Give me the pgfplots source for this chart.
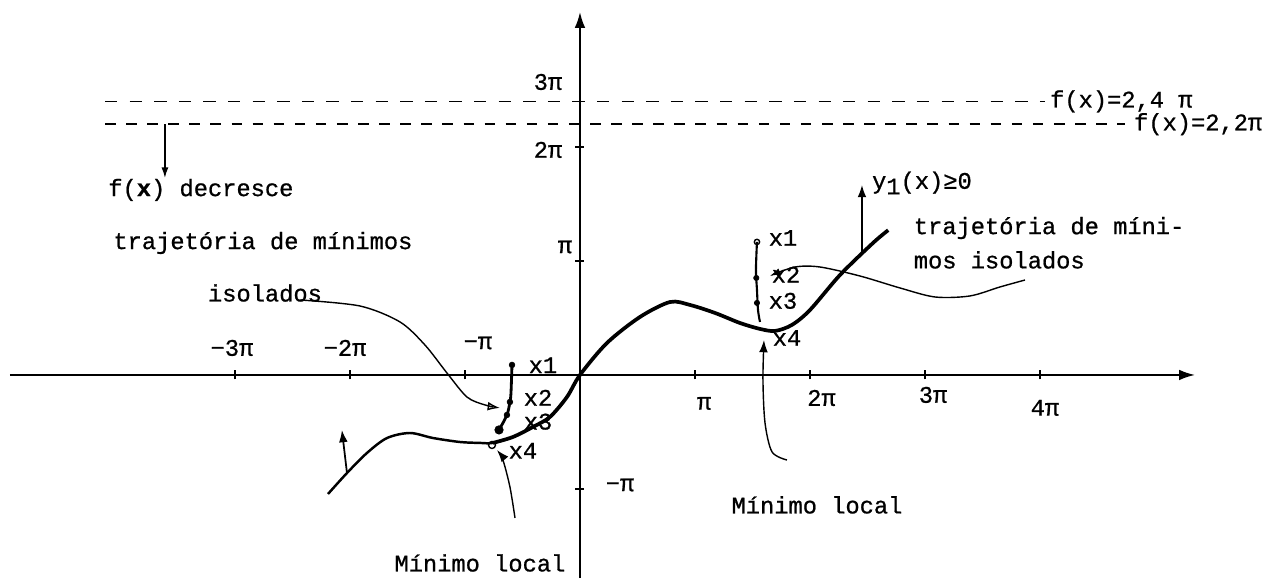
\documentclass[border=0pt]{standalone}
\usepackage{fontspec}
\setmainfont{Liberation Mono}[FakeBold=0.8]
\newfontfamily\lab{Liberation Sans}
\usepackage{pgfplots}
\pgfplotsset{compat=1.18}
\usetikzlibrary{arrows.meta}

\begin{document}
\begin{tikzpicture}[font=\fontsize{13.5}{15}\selectfont]
\begin{axis}[
  x=2.3cm, y=2.28cm,
  xmin=-4.957, xmax=5.348, ymin=-1.781, ymax=3.184,
  axis lines=middle,
  axis line style={line width=1.1pt, -{Latex[length=9pt,width=6pt]}},
  xtick={-3,-2,-1,1,2,3,4}, ytick={-1,1,2},
  xticklabels={}, yticklabels={},
  major tick length=0.18cm,
  tick style={line width=1.1pt, black},
  clip=false,
]
% frame of the page
\coordinate (bl) at (axis cs:-5.043,-1.781);
\coordinate (tr) at (axis cs:6.113,3.289);

% level lines f(x)=2,4pi and f(x)=2,2pi
\addplot[line width=0.9pt, dash pattern=on 7pt off 7pt] coordinates {(-4.130,2.4) (4.043,2.4)};
\addplot[line width=0.9pt, dash pattern=on 6pt off 6pt] coordinates {(-4.130,2.2) (4.739,2.2)};
\node[anchor=west, inner sep=1pt] at (axis cs:4.07,2.4) {f(x)=2,4 π};
\node[anchor=west, inner sep=1pt] at (axis cs:4.80,2.2) {f(x)=2,2π};
\addplot[line width=0.8pt, -{Latex[length=6pt,width=4pt]}] coordinates {(-3.609,2.2) (-3.609,1.728)};
\node[anchor=west, inner sep=0pt] at (axis cs:-4.104,1.623) {f(\textbf{x}) decresce};

% tick labels
{\lab
\node at (axis cs:-3.026,0.237) {−3π};
\node at (axis cs:-2.043,0.237) {−2π};
\node at (axis cs:-0.887,0.281) {−π};
\node at (axis cs:1.08,-0.25) {π};
\node at (axis cs:2.10,-0.202) {2π};
\node at (axis cs:3.07,-0.175) {3π};
\node at (axis cs:4.043,-0.289) {4π};
\node at (axis cs:-0.130,1.123) {π};
\node at (axis cs:-0.278,1.974) {2π};
\node at (axis cs:-0.278,2.570) {3π};
\node at (axis cs:0.348,-0.965) {−π};
}

% trajectory of the iterates
\addplot[line width=1.4pt, smooth, tension=0.5] coordinates {
(-2.191,-1.044) (-2.026,-0.860) (-1.852,-0.684) (-1.678,-0.553) (-1.478,-0.509)
(-1.278,-0.553) (-1.043,-0.588) (-0.870,-0.596) (-0.757,-0.596) (-0.583,-0.544)
(-0.409,-0.456)};
\addplot[line width=2.1pt, smooth, tension=0.5] coordinates {
(-0.757,-0.596) (-0.583,-0.544)
(-0.409,-0.456) (-0.261,-0.368) (-0.113,-0.193) (0,0) (0.235,0.281) (0.522,0.509)
(0.783,0.640) (0.957,0.614) (1.174,0.544) (1.391,0.456) (1.565,0.404) (1.696,0.386)
(1.843,0.439) (2.000,0.570) (2.261,0.877) (2.548,1.158) (2.680,1.270)};

% left: x1 ... x4
\addplot[line width=1.6pt, smooth] coordinates {
(-0.591,0.088) (-0.600,-0.158) (-0.609,-0.237) (-0.635,-0.351) (-0.704,-0.482)};
\addplot[only marks, mark=*, mark size=1.6pt] coordinates {(-0.591,0.088) (-0.609,-0.237) (-0.635,-0.351)};
\addplot[only marks, mark=*, mark size=2.4pt] coordinates {(-0.704,-0.482)};
\addplot[only marks, mark=o, mark size=2pt, mark options={fill=white, line width=0.8pt}] coordinates {(-0.765,-0.614)};
\node[inner sep=0pt] at (axis cs:-0.322,0.085) {x1};
\node[inner sep=0pt] at (axis cs:-0.365,-0.200) {x2};
\node[inner sep=0pt] at (axis cs:-0.365,-0.410) {x3};
\node[inner sep=0pt] at (axis cs:-0.496,-0.665) {x4};

% left annotations
\addplot[line width=0.8pt, smooth, -{Latex[open,length=7pt,width=5pt]}] coordinates {
(-2.435,0.658) (-1.913,0.605) (-1.565,0.465) (-1.348,0.263) (-1.157,0.018)
(-0.983,-0.193) (-0.826,-0.263) (-0.696,-0.289)};
\addplot[line width=1pt, -{Latex[length=7pt,width=5pt]}] coordinates {(-2.026,-0.860) (-2.070,-0.482)};
\addplot[line width=0.8pt, smooth, -{Latex[length=7pt,width=5pt]}] coordinates {
(-0.565,-1.254) (-0.609,-0.982) (-0.670,-0.746) (-0.722,-0.658)};
\node at (axis cs:-2.757,1.158) {trajetória de mínimos};
\node at (axis cs:-2.739,0.719) {isolados};
\node at (axis cs:-0.870,-1.649) {Mínimo local};

% right: x1 ... x4
\addplot[line width=1.2pt, smooth] coordinates {
(1.539,1.167) (1.530,0.921) (1.539,0.746) (1.548,0.570) (1.565,0.465)};
\addplot[only marks, mark=o, mark size=1.5pt, mark options={fill=white, line width=0.8pt}] coordinates {(1.539,1.167)};
\addplot[only marks, mark=*, mark size=1.5pt] coordinates {(1.533,0.851) (1.539,0.632)};
\node[inner sep=0pt] at (axis cs:1.765,1.202) {x1};
\node[inner sep=0pt] at (axis cs:1.791,0.880) {x2};
\node[inner sep=0pt] at (axis cs:1.765,0.650) {x3};
\node[inner sep=0pt] at (axis cs:1.800,0.325) {x4};

% right annotations
\addplot[line width=0.8pt, smooth, -{Latex[length=7pt,width=5pt]}] coordinates {
(1.800,-0.746) (1.670,-0.675) (1.609,-0.421) (1.591,-0.044) (1.600,0.307)};
\node at (axis cs:2.061,-1.140) {Mínimo local};
\addplot[line width=0.9pt, -{Latex[length=7pt,width=5pt]}] coordinates {(2.452,1.079) (2.452,1.667)};
\node[anchor=west, inner sep=1pt] at (axis cs:2.522,1.684) {y\raisebox{-0.45ex}{1}(x)≥0};
\addplot[line width=0.8pt, smooth, -{Latex[length=6pt,width=4pt]}] coordinates {
(3.870,0.833) (3.652,0.772) (3.391,0.693) (3.087,0.684) (2.783,0.763) (2.435,0.868)
(2.087,0.947) (1.870,0.947) (1.652,0.870)};
\node[anchor=west, inner sep=0pt] at (axis cs:2.90,1.289) {trajetória de míni-};
\node[anchor=west, inner sep=0pt] at (axis cs:2.90,1.009) {mos isolados};
\end{axis}
\pgfresetboundingbox
\path[use as bounding box] (bl) rectangle (tr);
\end{tikzpicture}
\end{document}
